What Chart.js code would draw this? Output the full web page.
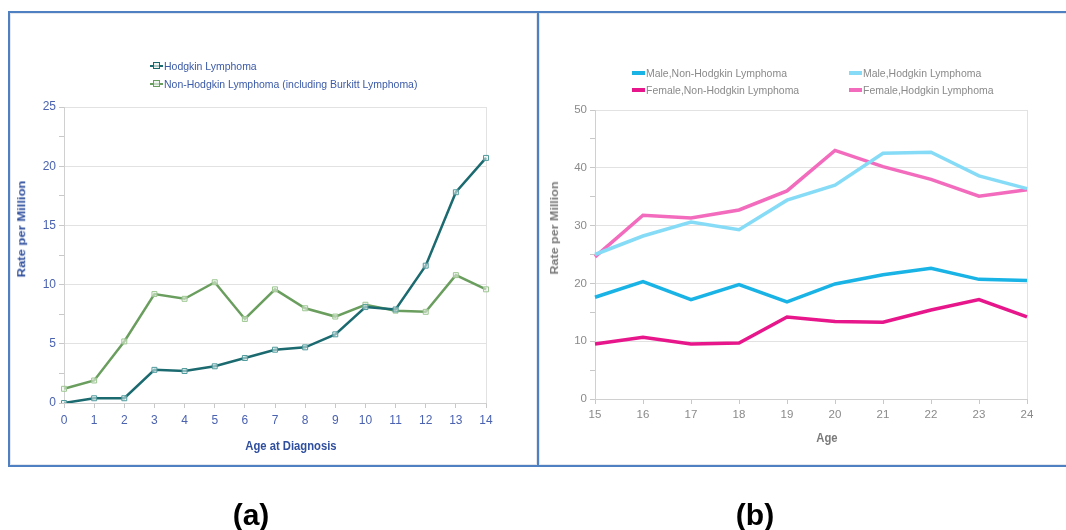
<!DOCTYPE html>
<html>
<head>
<meta charset="utf-8">
<script src="https://cdn.jsdelivr.net/npm/chart.js@4"></script>
<style>
  html, body { margin: 0; padding: 0; }
  body { width: 1066px; height: 530px; background: #fff; position: relative; overflow: hidden;
         font-family: "Liberation Sans", Arial, sans-serif; }
  .panel { position: absolute; border: 2px solid #4f80c2; box-sizing: border-box;
           box-shadow: inset 0 0 0 1px #e4e8ee; }
  #panelA { left: 8px; top: 11px; width: 531px; height: 456px; }
  #panelB { left: 537px; top: 11px; width: 540px; height: 456px; }
  .wrap { position: absolute; }
  #wrapA { left: 10px; top: 14px; width: 526px; height: 450px; }
  #wrapB { left: 540px; top: 14px; width: 526px; height: 450px; }
  .legend { position: absolute; font-size: 11.5px; line-height: 17px; white-space: nowrap; }
  .legend .item { position: absolute; height: 17px; }
  .legend .sw { position: absolute; top: 7px; width: 13px; }
  .legend .txt { position: absolute; left: 14px; top: 0; transform: scaleX(0.91); transform-origin: 0 50%; }
  .sq { position: absolute; width: 5px; height: 5px; left: 3px; top: -3px; border: 1px solid; background: rgba(235,242,238,0.7); }
  #legendA .txt { color: #3b5aa8; }
  #legendB .txt { color: #8a8a8a; }
  .axt { position: absolute; font-weight: bold; white-space: nowrap; line-height: 14px; height: 14px; }
  .axt.h { transform: translate(-50%, -50%) scaleX(0.9); }
  .axt.v { transform: translate(-50%, -50%) rotate(-90deg) scaleY(0.85); }
  .tag { position: absolute; top: 500px; font-weight: bold; font-size: 30px; line-height: 30px; color: #000;
         transform: translateX(-50%); }
</style>
</head>
<body>
<div class="panel" id="panelA"></div>
<div class="panel" id="panelB"></div>
<div class="wrap" id="wrapA"><canvas id="chartA" width="526" height="450"></canvas></div>
<div class="wrap" id="wrapB"><canvas id="chartB" width="526" height="450"></canvas></div>

<div class="legend" id="legendA">
  <div class="item" style="left:150px;top:58px;">
    <div class="sw" style="height:2px;background:#1b6a70;"><div class="sq" style="border-color:#1b6a70;"></div></div>
    <div class="txt">Hodgkin Lymphoma</div>
  </div>
  <div class="item" style="left:150px;top:76px;">
    <div class="sw" style="height:2px;background:#6a9e5e;"><div class="sq" style="border-color:#6a9e5e;"></div></div>
    <div class="txt">Non-Hodgkin Lymphoma (including Burkitt Lymphoma)</div>
  </div>
</div>

<div class="legend" id="legendB">
  <div class="item" style="left:632px;top:65px;">
    <div class="sw" style="height:4px;top:6px;background:#19b3e6;"></div>
    <div class="txt">Male,Non-Hodgkin Lymphoma</div>
  </div>
  <div class="item" style="left:632px;top:82px;">
    <div class="sw" style="height:4px;top:6px;background:#e8168b;"></div>
    <div class="txt">Female,Non-Hodgkin Lymphoma</div>
  </div>
  <div class="item" style="left:849px;top:65px;">
    <div class="sw" style="height:4px;top:6px;background:#86dcf6;"></div>
    <div class="txt">Male,Hodgkin Lymphoma</div>
  </div>
  <div class="item" style="left:849px;top:82px;">
    <div class="sw" style="height:4px;top:6px;background:#f26bbd;"></div>
    <div class="txt">Female,Hodgkin Lymphoma</div>
  </div>
</div>

<!-- axis titles -->
<div class="axt v" style="left:22px;top:229px;font-size:13px;color:#2f4f9e;">Rate per Million</div>
<div class="axt h" style="left:291px;top:446px;font-size:12.5px;color:#2f4f9e;">Age at Diagnosis</div>
<div class="axt v" style="left:555px;top:228px;font-size:12.5px;color:#7a7a7a;">Rate per Million</div>
<div class="axt h" style="left:827px;top:438px;font-size:12.5px;color:#7a7a7a;">Age</div>

<div class="tag" style="left:251px;">(a)</div>
<div class="tag" style="left:755px;">(b)</div>

<script>
// Panel (a): incidence by single year of age, 0-14
const agesChild = ['0','1','2','3','4','5','6','7','8','9','10','11','12','13','14'];
const hodgkinChild = [0, 0.4, 0.4, 2.8, 2.7, 3.1, 3.8, 4.5, 4.7, 5.8, 8.1, 7.9, 11.6, 17.8, 20.7];
const nonHodgkinChild = [1.2, 1.9, 5.2, 9.2, 8.8, 10.2, 7.1, 9.6, 8.0, 7.3, 8.3, 7.8, 7.7, 10.8, 9.6];

// Panel (b): incidence by sex, ages 15-24
const agesYoung = ['15','16','17','18','19','20','21','22','23','24'];
const maleNonHodgkin = [17.6, 20.3, 17.2, 19.8, 16.8, 19.9, 21.5, 22.6, 20.7, 20.5];
const femaleNonHodgkin = [9.5, 10.7, 9.5, 9.7, 14.2, 13.4, 13.3, 15.4, 17.2, 14.2];
const maleHodgkin = [25.0, 28.2, 30.6, 29.3, 34.4, 37.0, 42.5, 42.7, 38.6, 36.4];
const femaleHodgkin = [24.6, 31.8, 31.3, 32.7, 36.0, 43.0, 40.2, 38.0, 35.1, 36.2];

const FONT = '"Liberation Sans", Arial, sans-serif';

// y axis with minor tick marks halfway between labelled values
function yAxis(max, major, color, fixedWidth, size) {
  return {
    min: 0, max: max,
    afterFit(scale) { scale.width = fixedWidth; },
    ticks: {
      stepSize: major / 2,
      color: color,
      font: { family: FONT, size: size },
      padding: 3,
      autoSkip: false,
      callback: (v) => (v % major === 0 ? String(v) : '')
    },
    grid: {
      color: (c) => (c.tick && c.tick.value % major === 0 ? '#e2e2e2' : 'rgba(0,0,0,0)'),
      tickColor: '#c8c8c8',
      tickLength: 5,
      lineWidth: 1
    },
    border: { display: true, color: '#d0d0d0' },
    title: { display: false }
  };
}

function xAxis(color, fixedHeight, size, pad) {
  return {
    afterFit(scale) { scale.height = fixedHeight; },
    ticks: { color: color, font: { family: FONT, size: size }, padding: pad, autoSkip: false, maxRotation: 0 },
    grid: {
      color: (c) => (c.index === c.scale.ticks.length - 1 ? '#e2e2e2' : 'rgba(0,0,0,0)'),
      tickColor: '#c8c8c8',
      tickLength: 5
    },
    border: { display: true, color: '#d0d0d0' },
    title: { display: false }
  };
}

const common = {
  responsive: false,
  animation: false,
  plugins: { legend: { display: false }, tooltip: { enabled: false } },
  elements: { line: { tension: 0 } }
};

new Chart(document.getElementById('chartA'), {
  type: 'line',
  data: {
    labels: agesChild,
    datasets: [
      {
        label: 'Hodgkin Lymphoma', data: hodgkinChild,
        borderColor: '#1b6a70', borderWidth: 2.5,
        pointStyle: 'rect', pointRadius: 3.5, pointBorderWidth: 1,
        pointBorderColor: '#4f9a9c', pointBackgroundColor: 'rgba(235,244,244,0.55)'
      },
      {
        label: 'Non-Hodgkin Lymphoma (including Burkitt Lymphoma)', data: nonHodgkinChild,
        borderColor: '#6a9e5e', borderWidth: 2.5,
        pointStyle: 'rect', pointRadius: 3.5, pointBorderWidth: 1,
        pointBorderColor: '#9cc690', pointBackgroundColor: 'rgba(240,246,238,0.55)'
      }
    ]
  },
  options: Object.assign({}, common, {
    layout: { padding: { left: 0, right: 50, top: 93, bottom: 6 } },
    scales: {
      x: xAxis('#4a62b0', 55, 12, 5),
      y: yAxis(25, 5, '#4a62b0', 54, 12)
    }
  })
});

new Chart(document.getElementById('chartB'), {
  type: 'line',
  data: {
    labels: agesYoung,
    datasets: [
      { label: 'Male,Non-Hodgkin Lymphoma', data: maleNonHodgkin, borderColor: '#19b3e6', borderWidth: 3.5, pointRadius: 0 },
      { label: 'Male,Hodgkin Lymphoma', data: maleHodgkin, borderColor: '#86dcf6', borderWidth: 3.5, pointRadius: 0 },
      { label: 'Female,Non-Hodgkin Lymphoma', data: femaleNonHodgkin, borderColor: '#e8168b', borderWidth: 3.5, pointRadius: 0 },
      { label: 'Female,Hodgkin Lymphoma', data: femaleHodgkin, borderColor: '#f26bbd', borderWidth: 3.5, pointRadius: 0 }
    ]
  },
  options: Object.assign({}, common, {
    layout: { padding: { left: 0, right: 39, top: 96, bottom: 10 } },
    scales: {
      x: xAxis('#8a8a8a', 55, 11.5, 4),
      y: yAxis(50, 10, '#8a8a8a', 55, 11.5)
    }
  })
});
</script>
</body>
</html>
